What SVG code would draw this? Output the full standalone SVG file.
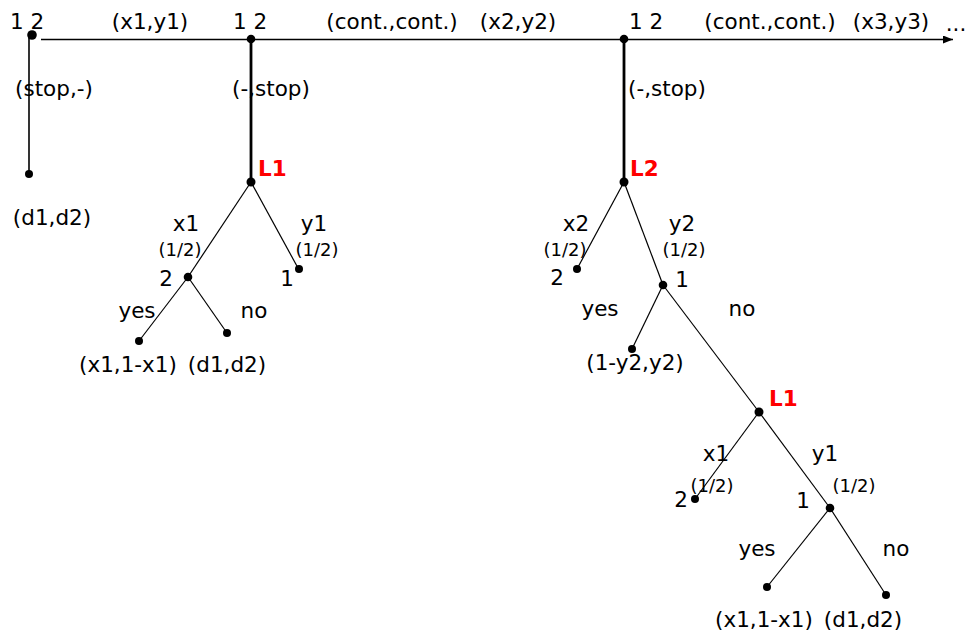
<svg xmlns="http://www.w3.org/2000/svg" width="970" height="637" viewBox="0 0 970 637">
<defs>
<style>
text{font-family:"DejaVu Sans","Liberation Sans",sans-serif;font-size:21.5px;fill:#000;text-anchor:middle}
text.s{font-size:18px}
text.r{fill:#ff0000;font-weight:bold;font-size:21.5px;text-anchor:start}
.e{stroke:#000;stroke-width:1.2;fill:none}
.t{stroke:#000;stroke-width:2.8;fill:none}
.h{stroke:#000;stroke-width:1.6;fill:none}
circle{fill:#000}
</style>
<marker id="arr" viewBox="0 0 10 8" refX="10" refY="4" markerWidth="10" markerHeight="8" markerUnits="userSpaceOnUse" orient="auto">
<path d="M0,0 L10,4 L0,8 Z" fill="#000"/>
</marker>
</defs>
<rect width="970" height="637" fill="#fff"/>
<g id="connectors">
<line class="h" x1="41" y1="39.5" x2="953" y2="39.5" marker-end="url(#arr)"/>
<line class="h" x1="29" y1="36" x2="29" y2="174"/>
<line class="t" x1="251" y1="39" x2="251" y2="182"/>
<line class="t" x1="624" y1="39" x2="624" y2="182"/>
<line class="e" x1="251" y1="182" x2="188" y2="277"/>
<line class="e" x1="251" y1="182" x2="298" y2="268"/>
<line class="e" x1="188" y1="277" x2="139" y2="341"/>
<line class="e" x1="188" y1="277" x2="227" y2="333"/>
<line class="e" x1="624" y1="182" x2="577" y2="269"/>
<line class="e" x1="624" y1="182" x2="663" y2="285"/>
<line class="e" x1="663" y1="285" x2="632" y2="349"/>
<line class="e" x1="663" y1="285" x2="759" y2="412"/>
<line class="e" x1="759" y1="412" x2="695" y2="499"/>
<line class="e" x1="759" y1="412" x2="830" y2="508"/>
<line class="e" x1="830" y1="508" x2="767" y2="587"/>
<line class="e" x1="830" y1="508" x2="886" y2="595"/>
</g>
<g id="root">
<circle cx="32" cy="35" r="4.8"/>
<text x="27" y="29">1 2</text>
</g>
<g id="leaf-stop1">
<circle cx="29" cy="174" r="4"/>
<text x="52" y="225">(d1,d2)</text>
</g>
<g id="node2">
<circle cx="251" cy="39" r="4.3"/>
<text x="250" y="29">1 2</text>
</g>
<g id="node3">
<circle cx="624" cy="39" r="4.3"/>
<text x="646" y="29">1 2</text>
</g>
<g id="top-labels">
<text x="150" y="29">(x1,y1)</text>
<text x="392" y="29">(cont.,cont.)</text>
<text x="518" y="29">(x2,y2)</text>
<text x="770" y="29">(cont.,cont.)</text>
<text x="891" y="29">(x3,y3)</text>
<text x="956" y="31">...</text>
<text x="54" y="96">(stop,-)</text>
<text x="271" y="96">(-,stop)</text>
<text x="667" y="96">(-,stop)</text>
</g>
<g id="L1a">
<circle cx="251" cy="182" r="4.5"/>
<text class="r" x="258" y="176">L1</text>
<text x="186" y="231">x1</text>
<text class="s" x="180" y="256">(1/2)</text>
<text x="314" y="231">y1</text>
<text class="s" x="317" y="256">(1/2)</text>
</g>
<g id="L1a-x">
<circle cx="188" cy="277" r="4.3"/>
<text x="166" y="286">2</text>
<text x="137" y="318">yes</text>
<text x="254" y="318">no</text>
</g>
<g id="L1a-y">
<circle cx="299" cy="269" r="4"/>
<text x="287" y="286">1</text>
</g>
<g id="L1a-yes">
<circle cx="139" cy="341" r="4"/>
<text x="128" y="372">(x1,1-x1)</text>
</g>
<g id="L1a-no">
<circle cx="227" cy="333" r="4"/>
<text x="227" y="372">(d1,d2)</text>
</g>
<g id="L2">
<circle cx="624" cy="182" r="4.5"/>
<text class="r" x="630" y="176">L2</text>
<text x="576" y="231">x2</text>
<text class="s" x="565" y="256">(1/2)</text>
<text x="682" y="231">y2</text>
<text class="s" x="684" y="256">(1/2)</text>
</g>
<g id="L2-x">
<circle cx="577" cy="269" r="4"/>
<text x="557" y="285">2</text>
</g>
<g id="L2-y">
<circle cx="663" cy="285" r="4.3"/>
<text x="682" y="287">1</text>
<text x="600" y="316">yes</text>
<text x="742" y="316">no</text>
</g>
<g id="L2-yes">
<circle cx="632" cy="349" r="4"/>
<text x="635" y="370">(1-y2,y2)</text>
</g>
<g id="L1b">
<circle cx="759" cy="412" r="4.5"/>
<text class="r" x="769" y="406">L1</text>
<text x="716" y="461">x1</text>
<text class="s" x="712" y="492">(1/2)</text>
<text x="825" y="461">y1</text>
<text class="s" x="854" y="492">(1/2)</text>
</g>
<g id="L1b-x">
<circle cx="695" cy="499" r="4"/>
<text x="681" y="507">2</text>
</g>
<g id="L1b-y">
<circle cx="830" cy="508" r="4.3"/>
<text x="803" y="508">1</text>
<text x="757" y="556">yes</text>
<text x="896" y="556">no</text>
</g>
<g id="L1b-yes">
<circle cx="767" cy="587" r="4"/>
<text x="764" y="627">(x1,1-x1)</text>
</g>
<g id="L1b-no">
<circle cx="886" cy="595" r="4"/>
<text x="863" y="627">(d1,d2)</text>
</g>
</svg>
